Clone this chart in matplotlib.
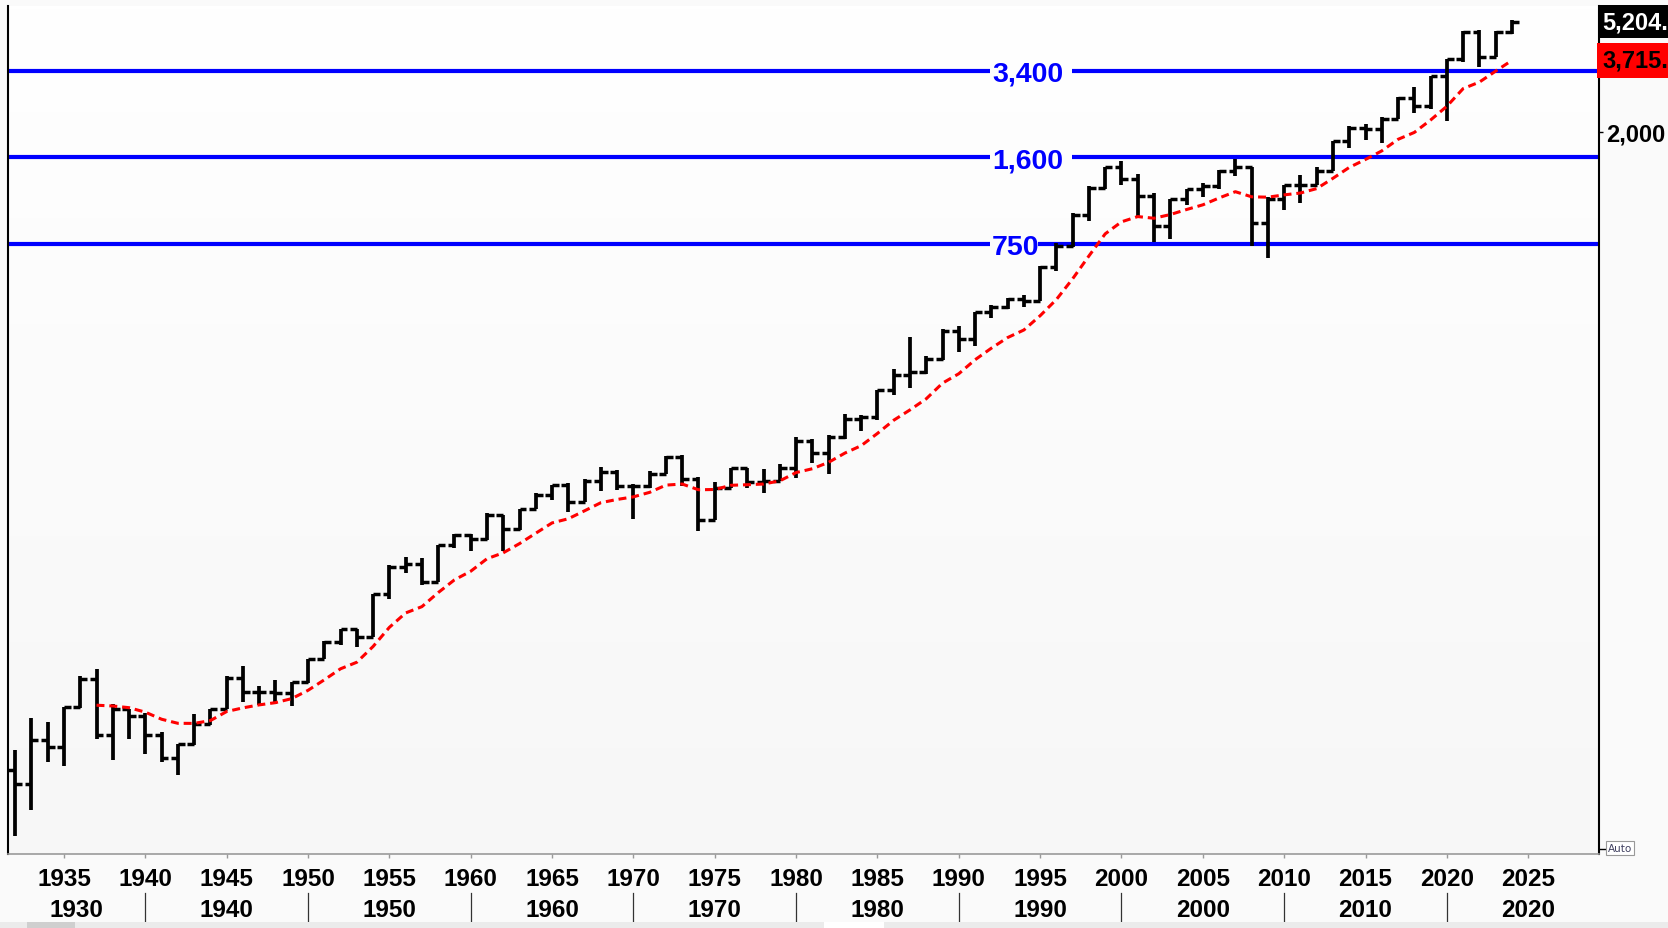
import numpy as np
import matplotlib
matplotlib.use("Agg")
import matplotlib.pyplot as plt
from matplotlib import transforms
from matplotlib.ticker import NullLocator
from matplotlib.patches import Rectangle
from matplotlib.colors import LinearSegmentedColormap

# ---------------- data ----------------
years = list(range(1932, 2025))
opens = [7.82, 6.89, 10.10, 9.50, 13.43, 17.18, 10.55, 13.21, 12.49, 10.58,
         8.69, 9.77, 11.67, 13.28, 17.36, 15.30, 15.30, 15.20, 16.76, 20.41,
         23.77, 26.57, 24.81, 35.98, 45.48, 46.67, 39.99, 55.21, 59.89, 58.11,
         71.55, 63.10, 75.02, 84.75, 92.43, 80.33, 96.47, 103.86, 92.06, 92.15,
         102.09, 118.05, 97.55, 68.56, 90.19, 107.46, 95.10, 96.11, 107.94, 135.76,
         122.55, 140.64, 164.93, 167.24, 211.28, 242.17, 247.08, 277.72, 353.40, 330.22,
         417.09, 435.71, 466.45, 459.27, 615.93, 740.74, 970.43, 1229.23, 1469.25, 1320.28,
         1148.08, 879.82, 1111.92, 1211.92, 1248.29, 1418.30, 1468.36, 903.25, 1115.10, 1257.64,
         1257.60, 1426.19, 1848.36, 2058.90, 2043.94, 2238.83, 2673.61, 2506.85, 3230.78, 3756.07,
         4766.18, 3839.50, 4745.20]
highs = [9.31, 12.20, 11.82, 13.46, 17.69, 18.68, 13.79, 13.23, 12.77, 10.86,
         9.77, 12.64, 13.29, 17.68, 19.25, 16.20, 17.06, 16.79, 20.43, 23.85,
         26.59, 26.66, 35.98, 46.41, 49.74, 49.13, 55.21, 60.71, 60.39, 72.64,
         71.55, 75.02, 86.28, 92.63, 94.06, 97.59, 108.37, 106.16, 93.46, 104.77,
         119.12, 120.24, 99.80, 95.61, 107.83, 107.97, 106.99, 111.27, 140.52, 138.12,
         143.02, 172.65, 170.41, 212.02, 254.00, 336.77, 283.95, 359.80, 369.78, 417.09,
         442.65, 470.94, 482.85, 621.69, 757.03, 983.79, 1241.81, 1473.10, 1552.87, 1383.37,
         1176.97, 1112.56, 1217.90, 1275.80, 1431.81, 1576.09, 1471.77, 1130.38, 1262.60, 1370.58,
         1474.51, 1849.44, 2093.55, 2134.72, 2277.53, 2694.97, 2940.91, 3247.93, 3760.20, 4808.93,
         4818.62, 4793.30, 5264.85]
lows = [4.40, 5.53, 8.36, 8.06, 13.40, 10.17, 8.50, 10.18, 8.99, 8.37,
        7.47, 9.70, 11.56, 13.21, 14.12, 13.71, 13.84, 13.55, 16.65, 20.41,
        23.09, 22.71, 24.80, 34.58, 43.11, 38.98, 39.99, 53.58, 52.30, 57.57,
        52.32, 62.69, 75.02, 81.60, 73.20, 80.33, 87.72, 89.20, 69.29, 90.16,
        101.67, 92.16, 62.28, 68.56, 90.19, 90.71, 86.90, 96.11, 98.22, 112.77,
        102.42, 138.34, 147.82, 163.36, 203.49, 216.46, 242.63, 275.31, 294.51, 309.35,
        394.50, 429.05, 435.86, 459.27, 597.29, 737.01, 923.32, 1212.19, 1254.07, 944.75,
        768.63, 788.90, 1060.72, 1136.15, 1219.29, 1363.98, 741.02, 666.79, 1010.91, 1074.77,
        1257.60, 1426.19, 1737.92, 1867.01, 1810.10, 2238.83, 2346.58, 2443.96, 2191.86, 3662.71,
        3491.58, 3808.86, 4682.11]
closes = [6.89, 10.10, 9.50, 13.43, 17.18, 10.55, 13.21, 12.49, 10.58, 8.69,
          9.77, 11.67, 13.28, 17.36, 15.30, 15.30, 15.20, 16.76, 20.41, 23.77,
          26.57, 24.81, 35.98, 45.48, 46.67, 39.99, 55.21, 59.89, 58.11, 71.55,
          63.10, 75.02, 84.75, 92.43, 80.33, 96.47, 103.86, 92.06, 92.15, 102.09,
          118.05, 97.55, 68.56, 90.19, 107.46, 95.10, 96.11, 107.94, 135.76, 122.55,
          140.64, 164.93, 167.24, 211.28, 242.17, 247.08, 277.72, 353.40, 330.22, 417.09,
          435.71, 466.45, 459.27, 615.93, 740.74, 970.43, 1229.23, 1469.25, 1320.28, 1148.08,
          879.82, 1111.92, 1211.92, 1248.29, 1418.30, 1468.36, 903.25, 1115.10, 1257.64, 1257.60,
          1426.19, 1848.36, 2058.90, 2043.94, 2238.83, 2673.61, 2506.85, 3230.78, 3756.07, 4766.18,
          3839.50, 4769.83, 5204.34]

ma_years = list(range(1937, 2025))
ma_values = [13.69, 13.6, 13.4, 12.89, 12.12, 11.7, 11.69, 11.98, 12.96, 13.38,
             13.73, 14.0, 14.5, 15.58, 17.07, 18.79, 19.89, 22.81, 26.93, 30.52,
             32.24, 36.42, 40.69, 43.85, 48.89, 51.47, 55.76, 61.03, 66.74, 69.21,
             74.16, 79.56, 81.84, 83.71, 87.05, 92.69, 93.57, 89.02, 89.24, 92.55,
             93.01, 93.58, 96.19, 103.38, 106.87, 113.01, 122.45, 130.59, 145.26, 162.88,
             178.19, 196.29, 224.85, 244.01, 275.48, 304.61, 334.04, 356.81, 403.92, 465.16,
             557.03, 679.25, 822.88, 913.32, 956.0, 942.15, 973.02, 1016.46, 1058.61, 1124.01,
             1186.62, 1135.09, 1131.46, 1154.4, 1173.16, 1219.17, 1333.57, 1465.45, 1570.63, 1692.12,
             1870.57, 1986.26, 2212.54, 2493.18, 2906.45, 3076.1, 3384.05, 3715.01]

level_values = [750, 1600, 3400]
level_labels = ["750", "1,600", "3,400"]
tick_years = list(range(1935, 2030, 5))
tick_labels = [str(t) for t in tick_years]
decade_years = list(range(1930, 2030, 10))
decade_labels = [str(d) for d in decade_years]
right_ticks = [2000]
right_tick_labels = ["2,000"]
last_close_label = "5,204."
ma_last_label = "3,715."

# ---------------- figure ----------------
W, H = 1668, 929
XMIN, XMAX = 1931.56, 2029.35
YMIN, YMAX = 3.758, 5958

fig = plt.figure(figsize=(W / 100, H / 100), dpi=100, facecolor="#fafafa")
ax = fig.add_axes([8 / W, (H - 855) / H, (1599 - 8) / W, (855 - 7) / H])
ax.set_yscale("log")

cmap = LinearSegmentedColormap.from_list("bg", ["#ffffff", "#f7f7f7"])
ax.imshow(np.linspace(0, 1, 256).reshape(-1, 1), extent=(0, 1, 0, 1), origin="upper",
          transform=ax.transAxes, aspect="auto", cmap=cmap, zorder=0)
ax.set_xlim(XMIN, XMAX)
ax.set_ylim(YMIN, YMAX)

AX_FONT = ["Liberation Sans", "DejaVu Sans"]

# horizontal levels with gaps for their labels
gap_end = {750: 1994.86, 1600: 1996.95, 3400: 1996.95}
lab_tr = transforms.offset_copy(ax.transData, fig=fig, x=0, y=-3, units="dots")
for v, lab in zip(level_values, level_labels):
    ax.hlines(v, XMIN, 1991.9, color="#0000ff", lw=3, zorder=2)
    ax.hlines(v, gap_end[v], XMAX, color="#0000ff", lw=3, zorder=2)
    ax.text(1992.05, v, lab, transform=lab_tr, color="#0000ff", fontsize=20.5,
            fontweight="bold", family=AX_FONT, ha="left", va="center", zorder=6)

# OHLC bars
yr = np.array(years, dtype=float)
ax.vlines(yr, lows, highs, color="black", lw=2.7, zorder=4, capstyle="butt")
ax.hlines(opens, yr - 0.42, yr, color="black", lw=2.5, zorder=4)
ax.hlines(closes, yr, yr + 0.42, color="black", lw=2.5, zorder=4)

# moving average
ax.plot(ma_years, ma_values, color="#ff0000", lw=2.2, dashes=(2.6, 1.6), zorder=5)

# spines
ax.spines["top"].set_visible(False)
ax.spines["left"].set_color("black"); ax.spines["left"].set_linewidth(1.5)
ax.spines["right"].set_color("black"); ax.spines["right"].set_linewidth(1.5)
ax.spines["bottom"].set_color("#9a9a9a"); ax.spines["bottom"].set_linewidth(1.2)

# right axis
ax.yaxis.tick_right()
ax.yaxis.set_minor_locator(NullLocator())
ax.set_yticks(right_ticks)
ax.set_yticklabels(right_tick_labels, fontsize=17, fontweight="bold", family=AX_FONT)
ax.tick_params(axis="y", direction="out", length=3, width=1, pad=2, colors="black")

# bottom axis: years
ax.set_xticks(tick_years)
ax.set_xticklabels(tick_labels, fontsize=17.5, fontweight="bold", family=AX_FONT)
ax.xaxis.set_minor_locator(NullLocator())
ax.tick_params(axis="x", direction="out", length=3, width=1, pad=6.5, color="#999999")

# bottom axis: decades
blend = transforms.blended_transform_factory(ax.transData, fig.transFigure)
dec_pos = [(XMIN + decade_years[1]) / 2] + [d + 5 for d in decade_years[1:]]
for p, lab in zip(dec_pos, decade_labels):
    ax.text(p, 1 - 911 / H, lab, transform=blend, fontsize=17.5, fontweight="bold",
            family=AX_FONT, ha="center", va="center", clip_on=False)
for d in decade_years[1:]:
    ax.plot([d, d], [1 - 894 / H, 1 - 923 / H], transform=blend, color="#333333",
            lw=0.9, clip_on=False)

# value boxes on the right axis
rb = transforms.blended_transform_factory(ax.transAxes, ax.transData)
ax.text(1.0022, closes[-1], last_close_label, transform=rb, fontsize=17, fontweight="bold",
        family=AX_FONT, color="white", ha="left", va="center", clip_on=False,
        bbox=dict(boxstyle="square,pad=0.2", fc="black", ec="none"), zorder=10)
ax.text(1.0022, ma_values[-1], ma_last_label, transform=rb, fontsize=17, fontweight="bold",
        family=AX_FONT, color="black", ha="left", va="center", clip_on=False,
        bbox=dict(boxstyle="square,pad=0.25", fc="#ff0000", ec="none"), zorder=10)

# Auto button
fig.text(1608 / W, 1 - 849 / H, "Auto", fontsize=7.5, color="#404060", ha="left", va="center",
         bbox=dict(boxstyle="square,pad=0.15", fc="white", ec="#999999", lw=0.8))
fig.add_artist(plt.Line2D([1599 / W, 1606 / W], [1 - 850 / H, 1 - 850 / H], color="black", lw=1))

# scrollbar strip
fig.add_artist(Rectangle((0, 0), 1, 6 / H, transform=fig.transFigure, fc="#ebebeb", ec="none"))
fig.add_artist(Rectangle((27 / W, 0), 48 / W, 6 / H, transform=fig.transFigure, fc="#cfcfcf", ec="none"))
fig.add_artist(Rectangle((824 / W, 0), 60 / W, 6 / H, transform=fig.transFigure, fc="#ffffff", ec="none"))

fig.savefig("out.png", dpi=100, facecolor=fig.get_facecolor())
